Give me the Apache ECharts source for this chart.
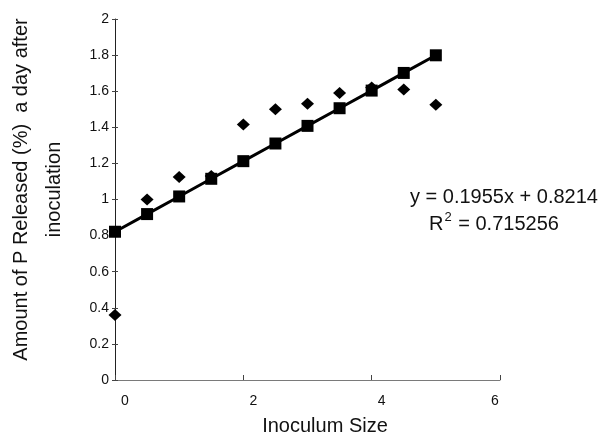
<!DOCTYPE html>
<html>
<head>
<meta charset="utf-8">
<script src="https://cdn.jsdelivr.net/npm/echarts@6/dist/echarts.min.js"></script>
<style>
html,body{margin:0;padding:0;background:#fff;}
#chart{width:605px;height:435px;}
</style>
</head>
<body>
<div id="chart"></div>
<script>
var inoculumSize = [0, 0.5, 1, 1.5, 2, 2.5, 3, 3.5, 4, 4.5, 5];
var observed = [0.36, 1.00, 1.125, 1.13, 1.415, 1.50, 1.53, 1.59, 1.62, 1.61, 1.525];
var fitted = [0.8214, 0.9192, 1.0169, 1.1147, 1.2124, 1.3102, 1.4079, 1.5057, 1.6034, 1.7012, 1.7989];
var yTicks = [0, 0.2, 0.4, 0.6, 0.8, 1, 1.2, 1.4, 1.6, 1.8, 2];
var xTicks = [0, 2, 4, 6];
var equationText = 'y = 0.1955x + 0.8214';
var r2Value = '0.715256';

var chart = echarts.init(document.getElementById('chart'), null, {renderer: 'canvas'});
var font = 'Liberation Sans, Arial, sans-serif';

function pairs(xs, ys) { return xs.map(function (x, i) { return [x, ys[i]]; }); }

chart.setOption({
  animation: false,
  backgroundColor: '#fff',
  grid: {left: 115, right: 105, top: 19, bottom: 55, containLabel: false, outerBoundsMode: 'none'},
  xAxis: {
    type: 'value', min: xTicks[0], max: xTicks[xTicks.length - 1], interval: 2,
    splitLine: {show: false},
    axisLine: {lineStyle: {color: '#7a7a7a', width: 1}},
    axisTick: {inside: true, length: 5, lineStyle: {color: '#444'}},
    axisLabel: {
      margin: 14, fontFamily: font, fontSize: 14, color: '#111',
      formatter: function (v) { return v === 6 ? '{b|' + v + '}' : '{a|' + v + '}'; },
      rich: {
        a: {fontFamily: font, fontSize: 14, color: '#111', padding: [0, 0, 0, 20]},
        b: {fontFamily: font, fontSize: 14, color: '#111', padding: [0, 10, 0, 0]}
      }
    },
    name: 'Inoculum Size', nameLocation: 'middle', nameGap: 36,
    nameTextStyle: {fontFamily: font, fontSize: 20, color: '#111', padding: [0, 0, 0, 35]}
  },
  yAxis: [{
    type: 'value', min: yTicks[0], max: yTicks[yTicks.length - 1], interval: 0.2,
    splitLine: {show: false},
    axisLine: {lineStyle: {color: '#222', width: 1}},
    axisTick: {length: 3, lineStyle: {color: '#444'}},
    axisLabel: {margin: 6, fontFamily: font, fontSize: 14, color: '#111'},
    name: 'Amount of P Released (%)  a day after\ninoculation',
    nameLocation: 'middle', nameGap: 44,
    nameTextStyle: {fontFamily: font, fontSize: 20, color: '#111', lineHeight: 33, padding: [0, 0, 0, 20]}
  }, {
    type: 'value', position: 'left', min: 0, max: 2, interval: 0.2,
    splitLine: {show: false},
    axisLine: {show: false},
    axisTick: {inside: true, length: 3, lineStyle: {color: '#444'}},
    axisLabel: {show: false}
  }],
  graphic: [{
    type: 'text', left: 410, top: 187,
    style: {text: equationText, fontFamily: font, fontSize: 20, fill: '#111'}
  }, {
    type: 'text', left: 429, top: 211,
    style: {
      text: '{r|R}{s|2}{r| = ' + r2Value + '}',
      rich: {
        r: {fontFamily: font, fontSize: 20, fill: '#111', verticalAlign: 'bottom'},
        s: {fontFamily: font, fontSize: 13, fill: '#111', verticalAlign: 'top', padding: [0, 1, 10, 1]}
      }
    }
  }],
  series: [{
    name: 'Observed', type: 'scatter', data: pairs(inoculumSize, observed),
    symbol: 'diamond', symbolSize: [13, 12],
    itemStyle: {color: '#000', opacity: 1}, z: 2
  }, {
    name: 'Linear fit', type: 'line', data: pairs(inoculumSize, fitted),
    symbol: 'rect', symbolSize: 12, showAllSymbol: true,
    lineStyle: {color: '#000', width: 3},
    itemStyle: {color: '#000', opacity: 1}, z: 3
  }]
});
</script>
</body>
</html>
